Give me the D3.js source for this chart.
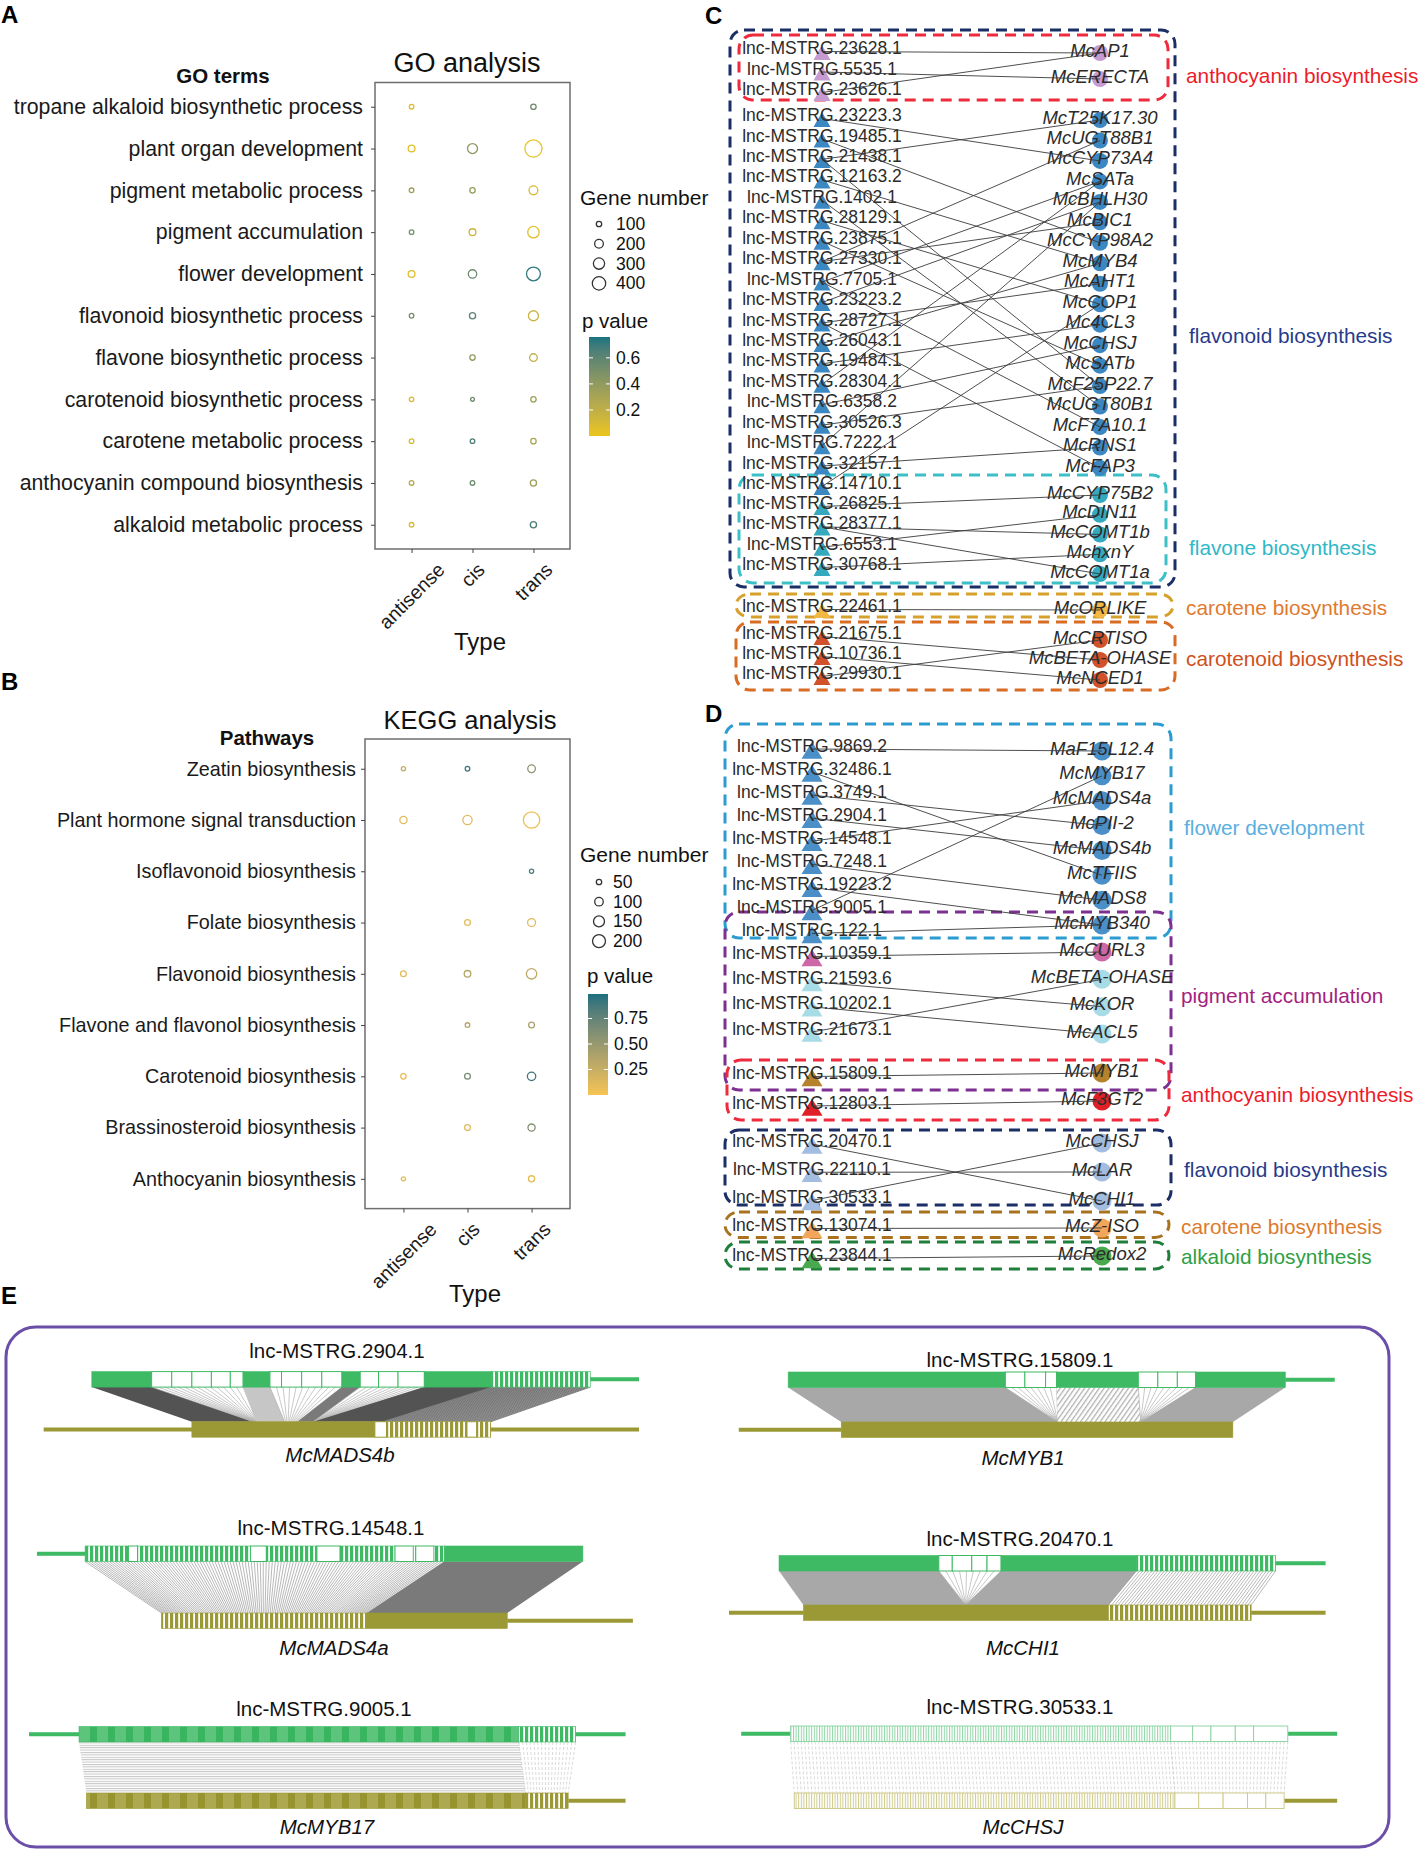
<!DOCTYPE html>
<html>
<head>
<meta charset="utf-8">
<script src="https://cdn.jsdelivr.net/npm/d3@7/dist/d3.min.js"></script>
<style>
  body { margin: 0; background: #fff; }
  svg text { font-family: "Liberation Sans", Arial, Helvetica, sans-serif; }
</style>
</head>
<body>
<div id="fig"></div>
<script>
// ---------- A: GO analysis ----------
var types = ["antisense", "cis", "trans"];
var goTerms = ["tropane alkaloid biosynthetic process", "plant organ development", "pigment metabolic process",
  "pigment accumulation", "flower development", "flavonoid biosynthetic process", "flavone biosynthetic process",
  "carotenoid biosynthetic process", "carotene metabolic process", "anthocyanin compound biosynthesis",
  "alkaloid metabolic process"];
// gene number per term for antisense / cis / trans (null = not enriched)
var goCount = [[80, null, 100], [138, 248, 610], [82, 100, 203], [80, 138, 306], [138, 189, 420],
  [80, 121, 248], [null, 100, 163], [78, 64, 100], [80, 80, 100], [80, 80, 121], [80, null, 121]];
var goP = [[0.08, null, 0.55], [0.05, 0.42, 0.03], [0.35, 0.38, 0.10], [0.50, 0.15, 0.05], [0.06, 0.55, 0.72],
  [0.50, 0.60, 0.15], [null, 0.40, 0.20], [0.10, 0.55, 0.35], [0.10, 0.65, 0.30], [0.25, 0.55, 0.35],
  [0.10, null, 0.65]];
var goSizeBreaks = [100, 200, 300, 400];
var goPBreaks = [0.2, 0.4, 0.6];

// ---------- B: KEGG analysis ----------
var keggPathways = ["Zeatin biosynthesis", "Plant hormone signal transduction", "Isoflavonoid biosynthesis",
  "Folate biosynthesis", "Flavonoid biosynthesis", "Flavone and flavonol biosynthesis",
  "Carotenoid biosynthesis", "Brassinosteroid biosynthesis", "Anthocyanin biosynthesis"];
var keggCount = [[35, 40, 83], [76, 113, 299], [null, null, 35], [null, 55, 90], [55, 67, 137],
  [null, 40, 55], [50, 55, 97], [null, 55, 76], [35, null, 61]];
var keggP = [[0.30, 0.90, 0.55], [0.10, 0.12, 0.05], [null, null, 0.85], [null, 0.10, 0.12], [0.10, 0.35, 0.30],
  [null, 0.35, 0.40], [0.08, 0.65, 0.90], [null, 0.12, 0.60], [0.10, null, 0.08]];
var keggSizeBreaks = [50, 100, 150, 200];
var keggPBreaks = [0.25, 0.5, 0.75];

// ---------- C: lncRNA - target network (left ids, right genes) ----------
var cLncAnth = [["23628.1", "anth"], ["5535.1", "anth"], ["23626.1", "anth"]];
var cLncFlavonoid = [["23223.3", "flav"], ["19485.1", "flav"], ["21438.1", "flav"], ["12163.2", "flav"],
  ["1402.1", "flav"], ["28129.1", "flav"], ["23875.1", "flav"], ["27330.1", "flav"], ["7705.1", "flav"],
  ["23223.2", "flav"], ["28727.1", "flav"], ["26043.1", "flav"], ["19484.1", "flav"], ["28304.1", "flav"],
  ["6358.2", "flav"], ["30526.3", "flav"], ["7222.1", "flav"], ["32157.1", "flav"], ["14710.1", "flav"]];
var cLncFlavone = [["26825.1", "flavone"], ["28377.1", "flavone"], ["6553.1", "flavone"], ["30768.1", "flavone"]];
var cLncCarotene = [["22461.1", "carotene"]];
var cLncCarotenoid = [["21675.1", "carotenoid"], ["10736.1", "carotenoid"], ["29930.1", "carotenoid"]];
var cGeneAnth = [["McAP1", "anth"], ["McERECTA", "anth"]];
var cGeneFlavonoid = [["McT25K17.30", "flav"], ["McUGT88B1", "flav"], ["McCYP73A4", "flav"], ["McSATa", "flav"],
  ["McBHLH30", "flav"], ["McBIC1", "flav"], ["McCYP98A2", "flav"], ["McMYB4", "flav"], ["McAHT1", "flav"],
  ["McCOP1", "flav"], ["Mc4CL3", "flav"], ["McCHSJ", "flav"], ["McSATb", "flav"], ["McF25P22.7", "flav"],
  ["McUGT80B1", "flav"], ["McF7A10.1", "flav"], ["McRNS1", "flav"], ["McFAP3", "flav"]];
var cGeneFlavone = [["McCYP75B2", "flavone"], ["McDIN11", "flavone"], ["McCOMT1b", "flavone"],
  ["MchxnY", "flavone"], ["McCOMT1a", "flavone"]];
var cGeneCarotene = [["McORLIKE", "carotene"]];
var cGeneCarotenoid = [["McCRTISO", "carotenoid"], ["McBETA-OHASE", "carotenoid"], ["McNCED1", "carotenoid"]];
var cEdges = [["23628.1", "McAP1"], ["5535.1", "McERECTA"], ["23626.1", "McAP1"],
  ["23223.3", "McCYP73A4"], ["19485.1", "McCYP98A2"], ["21438.1", "McT25K17.30"], ["21438.1", "McF25P22.7"],
  ["12163.2", "McMYB4"], ["1402.1", "McUGT80B1"], ["28129.1", "McCOP1"], ["23875.1", "McSATb"],
  ["27330.1", "McUGT88B1"], ["27330.1", "McBIC1"], ["7705.1", "McSATa"], ["7705.1", "McF7A10.1"],
  ["23223.2", "McBHLH30"], ["28727.1", "McAHT1"], ["28727.1", "McFAP3"], ["26043.1", "McMYB4"],
  ["19484.1", "Mc4CL3"], ["28304.1", "McSATa"], ["6358.2", "McCHSJ"], ["30526.3", "McF25P22.7"],
  ["7222.1", "McBHLH30"], ["32157.1", "McRNS1"], ["14710.1", "McCOP1"],
  ["26825.1", "McCYP75B2"], ["28377.1", "McCOMT1b"], ["28377.1", "McCOMT1a"], ["6553.1", "McDIN11"],
  ["30768.1", "MchxnY"], ["22461.1", "McORLIKE"],
  ["21675.1", "McBETA-OHASE"], ["10736.1", "McNCED1"], ["29930.1", "McCRTISO"]];

// ---------- D ----------
var dLncFlower = [["9869.2", "flower"], ["32486.1", "flower"], ["3749.1", "flower"], ["2904.1", "flower"],
  ["14548.1", "flower"], ["7248.1", "flower"], ["19223.2", "flower"], ["9005.1", "flower"], ["122.1", "flower"]];
var dLncPigment = [["10359.1", "curl"], ["21593.6", "pig"], ["10202.1", "pig"], ["21673.1", "pig"]];
var dLncAnth = [["15809.1", "myb"], ["12803.1", "anth"]];
var dLncFlavonoid = [["20470.1", "flav"], ["22110.1", "flav"], ["30533.1", "flav"]];
var dLncCarotene = [["13074.1", "carotene"]];
var dLncAlkaloid = [["23844.1", "alkaloid"]];
var dGeneFlower = [["MaF15L12.4", "flower"], ["McMYB17", "flower"], ["McMADS4a", "flower"], ["McPII-2", "flower"],
  ["McMADS4b", "flower"], ["McTFIIS", "flower"], ["McMADS8", "flower"], ["McMYB340", "flower"]];
var dGenePigment = [["McCURL3", "curl"], ["McBETA-OHASE", "pig"], ["McKOR", "pig"], ["McACL5", "pig"]];
var dGeneAnth = [["McMYB1", "myb"], ["McF3GT2", "anth"]];
var dGeneFlavonoid = [["McCHSJ", "flav"], ["McLAR", "flav"], ["McCHI1", "flav"]];
var dGeneCarotene = [["McZ-ISO", "carotene"]];
var dGeneAlkaloid = [["McRedox2", "alkaloid"]];
var dEdges = [["9869.2", "MaF15L12.4"], ["32486.1", "McTFIIS"], ["3749.1", "McPII-2"], ["2904.1", "McMADS4b"],
  ["14548.1", "McMADS4a"], ["7248.1", "McMADS8"], ["19223.2", "McMYB340"], ["9005.1", "McMYB17"],
  ["122.1", "McMYB340"], ["10359.1", "McCURL3"], ["21593.6", "McKOR"], ["10202.1", "McACL5"],
  ["21673.1", "McBETA-OHASE"], ["15809.1", "McMYB1"], ["12803.1", "McF3GT2"], ["20470.1", "McCHI1"],
  ["22110.1", "McLAR"], ["30533.1", "McCHSJ"], ["13074.1", "McZ-ISO"], ["23844.1", "McRedox2"]];

// ---------- E: sequence alignments (positions along a 0-100 track) ----------
// segments: [start, end, kind]  s=matched, g=gap box, t=mixed, v=variable, p=sparse
// links: [lncStart, lncEnd, geneStart, geneEnd, kind]
var e1Lnc = [[10.3, 20.1, "s"], [20.1, 23.4, "g"], [23.4, 26.7, "g"], [26.7, 29.9, "g"], [29.9, 33.0, "g"],
  [33.0, 35.1, "g"], [35.1, 39.5, "s"], [39.5, 41.4, "g"], [41.4, 44.7, "g"], [44.7, 48.0, "g"], [48.0, 51.3, "g"],
  [51.3, 54.3, "s"], [54.3, 57.3, "g"], [57.3, 60.5, "g"], [60.5, 64.8, "g"], [64.8, 75.8, "s"], [75.8, 92.0, "t"]];
var e1Gene = [[26.7, 56.7, "s"], [56.7, 58.6, "g"], [58.6, 71.8, "t"], [71.8, 73.4, "g"], [73.4, 75.7, "t"]];
var e1Links = [[10.3, 20.1, 26.7, 36.8, "d"], [20.1, 35.1, 36.8, 37.4, "f"], [35.1, 39.5, 37.2, 41.9, "l"],
  [39.5, 51.3, 41.9, 44.0, "f"], [51.3, 54.3, 44.0, 46.6, "m"], [54.3, 64.8, 46.6, 47.0, "f"],
  [64.8, 75.8, 46.6, 57.8, "d"], [75.8, 92.0, 57.8, 75.7, "b"]];
var e1Tails = [[[92.0, 100]], [[2.4, 100]]];

var e2Lnc = [[9.2, 16.3, "t"], [16.3, 17.8, "g"], [17.8, 36.3, "t"], [36.3, 38.9, "g"], [38.9, 47.2, "t"],
  [47.2, 51.0, "g"], [51.0, 60.0, "t"], [60.0, 63.0, "g"], [63.0, 63.4, "t"], [63.4, 66.4, "g"],
  [66.4, 68.1, "t"], [68.1, 90.8, "s"]];
var e2Gene = [[21.7, 55.4, "t"], [55.4, 78.4, "s"]];
var e2Links = [[9.2, 68.1, 21.7, 55.4, "c"], [68.1, 90.8, 55.4, 78.4, "m"]];
var e2Tails = [[[1.3, 9.2]], [[78.4, 99.0]]];

var e3Lnc = [[8.2, 80.3, "v"], [80.3, 89.6, "t"]];
var e3Gene = [[9.4, 81.4, "v"], [81.4, 88.4, "t"]];
var e3Links = [[8.2, 80.3, 9.4, 81.4, "h"], [80.3, 89.6, 81.4, 88.4, "q"]];
var e3Tails = [[[0, 8.2], [89.6, 97.8]], [[88.4, 97.8]]];

var e4Lnc = [[9.7, 45.3, "s"], [45.3, 48.5, "g"], [48.5, 51.9, "g"], [51.9, 53.7, "g"], [53.7, 67.1, "s"],
  [67.1, 70.3, "g"], [70.3, 73.5, "g"], [73.5, 76.5, "g"], [76.5, 91.2, "s"]];
var e4Gene = [[18.4, 82.6, "s"]];
var e4Links = [[9.7, 45.3, 18.4, 53.9, "a"], [45.3, 53.7, 53.9, 53.9, "f"], [53.7, 67.1, 53.9, 67.5, "x"],
  [67.1, 76.5, 67.5, 67.5, "f"], [76.5, 91.2, 67.5, 82.6, "a"]];
var e4Tails = [[[91.2, 99.3]], [[1.6, 18.4]]];

var e5Lnc = [[8.2, 34.4, "s"], [34.4, 36.6, "g"], [36.6, 39.8, "g"], [39.8, 42.3, "g"], [42.3, 44.6, "g"],
  [44.6, 66.8, "s"], [66.8, 89.6, "t"]];
var e5Gene = [[12.2, 62.2, "s"], [62.2, 85.6, "t"]];
var e5Links = [[8.2, 34.4, 12.2, 38.8, "a"], [34.4, 44.6, 38.8, 38.8, "f"], [44.6, 66.8, 38.8, 62.2, "a"],
  [66.8, 89.6, 62.2, 85.6, "c"]];
var e5Tails = [[[89.6, 97.8]], [[0, 12.2], [85.6, 97.8]]];

var e6Lnc = [[10.1, 72.4, "p"], [72.4, 76.0, "g"], [76.0, 79.0, "g"], [79.0, 83.0, "g"], [83.0, 86.0, "g"],
  [86.0, 91.6, "g"]];
var e6Gene = [[10.7, 73.1, "p"], [73.1, 77.0, "g"], [77.0, 81.0, "g"], [81.0, 85.0, "g"], [85.0, 88.0, "g"],
  [88.0, 91.0, "g"]];
var e6Links = [[10.1, 72.4, 10.7, 73.1, "q"], [72.4, 91.6, 73.1, 91.0, "q"]];
var e6Tails = [[[2.0, 10.1], [91.6, 99.7]], [[91.0, 99.7]]];

// =====================================================================
var svg = d3.select("#fig").append("svg")
  .attr("width", 1420).attr("height", 1851)
  .style("display", "block");
var defs = svg.append("defs");

var GREEN = "#3dba63", OLIVE = "#9b9935";

function stripePattern(id, w, base, sx, sw, color, horizontal) {
  var p = defs.append("pattern").attr("id", id).attr("patternUnits", "userSpaceOnUse")
    .attr("width", horizontal ? 10 : w).attr("height", horizontal ? w : 10);
  p.append("rect").attr("width", horizontal ? 10 : w).attr("height", horizontal ? w : 10).attr("fill", base);
  if (horizontal) p.append("rect").attr("y", sx).attr("width", 10).attr("height", sw).attr("fill", color);
  else p.append("rect").attr("x", sx).attr("width", sw).attr("height", 10).attr("fill", color);
}
stripePattern("stripeG", 5, GREEN, 3.2, 1.8, "#fff");
stripePattern("stripeO", 5, OLIVE, 3.2, 1.8, "#fff");
stripePattern("varG", 18, "#5cc47b", 0, 7, "#38b55e");
stripePattern("varO", 18, "#aca950", 0, 7, "#97942f");
stripePattern("paleG", 2.6, "#fff", 0, 1, "#8fd6a5");
stripePattern("paleO", 2.6, "#fff", 0, 1, "#cfcb8c");
stripePattern("hatchH", 2.4, "#fff", 0, 1, "#c4c4c4", true);
var pd = defs.append("pattern").attr("id", "hatchD").attr("patternUnits", "userSpaceOnUse")
  .attr("width", 4).attr("height", 4).attr("patternTransform", "rotate(35)");
pd.append("rect").attr("width", 4).attr("height", 4).attr("fill", "#fff");
pd.append("rect").attr("width", 1.3).attr("height", 4).attr("fill", "#b0b0b0");

// panel letters
[["A", 1, 23], ["B", 1, 690], ["C", 705, 24], ["D", 705, 722], ["E", 1, 1304]].forEach(function (d) {
  svg.append("text").attr("x", d[1]).attr("y", d[2]).text(d[0])
    .style("font-size", "24px").style("font-weight", "bold").attr("fill", "#000");
});

// ---------- bubble panels ----------
function bubblePanel(o) {
  var g = svg.append("g");
  var x = d3.scalePoint().domain(types).range([o.box[0], o.box[2]]).padding(0.6);
  var y = d3.scalePoint().domain(o.rows).range([o.box[1], o.box[3]]).padding(0.58);
  var r = d3.scaleSqrt().domain(o.sizeDomain).range(o.sizeRange);
  var col = d3.scaleLinear().domain([0, o.pMax]).range(o.colors).interpolate(d3.interpolateLab);

  g.append("rect").attr("x", o.box[0]).attr("y", o.box[1])
    .attr("width", o.box[2] - o.box[0]).attr("height", o.box[3] - o.box[1])
    .attr("fill", "none").attr("stroke", "#6e6e6e").attr("stroke-width", 1.5);

  var ya = g.append("g").attr("transform", "translate(" + o.box[0] + ",0)")
    .call(d3.axisLeft(y).tickSize(4).tickPadding(o.tickPad));
  ya.select(".domain").remove();
  ya.selectAll("line").attr("stroke", "#444");
  ya.selectAll("text").style("font-size", o.labelSize + "px").attr("fill", "#1a1a1a");

  var xa = g.append("g").attr("transform", "translate(0," + o.box[3] + ")")
    .call(d3.axisBottom(x).tickSize(4).tickFormat(""));
  xa.select(".domain").remove();
  xa.selectAll("line").attr("stroke", "#444");

  types.forEach(function (t) {
    var tx = g.append("text").text(t).style("font-size", "19.5px").attr("fill", "#1a1a1a")
      .attr("text-anchor", "middle").attr("dominant-baseline", "central");
    var w = tx.node().getComputedTextLength();
    var cy = o.box[3] + 12 + (w + 14.6) / (2 * Math.SQRT2);
    tx.attr("transform", "translate(" + x(t) + "," + cy + ") rotate(-45)");
  });

  var pts = [];
  o.rows.forEach(function (row, i) {
    types.forEach(function (t, j) {
      if (o.count[i][j] != null) pts.push({ row: row, type: t, n: o.count[i][j], p: o.p[i][j] });
    });
  });
  g.selectAll("circle.bub").data(pts).enter().append("circle").attr("class", "bub")
    .attr("cx", function (d) { return x(d.type); })
    .attr("cy", function (d) { return y(d.row); })
    .attr("r", function (d) { return r(d.n); })
    .attr("fill", "none").attr("stroke-width", 1.3)
    .attr("stroke", function (d) { return col(d.p); });

  g.append("text").attr("x", o.titleX).attr("y", o.titleY).attr("text-anchor", "middle")
    .style("font-size", o.titleSize + "px").attr("fill", "#111").text(o.title);
  g.append("text").attr("x", o.headX).attr("y", o.headY).attr("text-anchor", "middle")
    .style("font-size", "20.5px").style("font-weight", "bold").attr("fill", "#111").text(o.head);
  g.append("text").attr("x", o.typeX).attr("y", o.typeY).attr("text-anchor", "middle")
    .style("font-size", "24px").attr("fill", "#111").text("Type");

  // size legend
  var lg = o.legend;
  g.append("text").attr("x", lg.x).attr("y", lg.sizeTitleY).style("font-size", "21px").attr("fill", "#111")
    .text("Gene number");
  o.sizeBreaks.forEach(function (b, i) {
    var cy = lg.sizeY0 + i * lg.sizeStep;
    g.append("circle").attr("cx", lg.x + 19).attr("cy", cy).attr("r", r(b))
      .attr("fill", "none").attr("stroke", "#333").attr("stroke-width", 1.3);
    g.append("text").attr("x", lg.numX).attr("y", cy + 6).style("font-size", "17.5px").attr("fill", "#111").text(b);
  });
  // colour legend
  g.append("text").attr("x", lg.pX).attr("y", lg.pTitleY).style("font-size", "20.5px").attr("fill", "#111")
    .text("p value");
  var gid = "grad" + o.id;
  var grad = defs.append("linearGradient").attr("id", gid)
    .attr("x1", 0).attr("y1", 1).attr("x2", 0).attr("y2", 0);
  d3.range(0, 1.0001, 0.1).forEach(function (t) {
    grad.append("stop").attr("offset", t).attr("stop-color", col(t * o.pMax));
  });
  var cb = d3.scaleLinear().domain([0, o.pMax]).range([lg.barY1, lg.barY0]);
  g.append("rect").attr("x", lg.barX).attr("y", lg.barY0).attr("width", lg.barW)
    .attr("height", lg.barY1 - lg.barY0).attr("fill", "url(#" + gid + ")");
  o.pBreaks.forEach(function (b) {
    var yy = cb(b);
    g.append("line").attr("x1", lg.barX).attr("x2", lg.barX + 4).attr("y1", yy).attr("y2", yy)
      .attr("stroke", "#fff").attr("stroke-width", 1);
    g.append("line").attr("x1", lg.barX + lg.barW - 4).attr("x2", lg.barX + lg.barW).attr("y1", yy).attr("y2", yy)
      .attr("stroke", "#fff").attr("stroke-width", 1);
    g.append("text").attr("x", lg.barX + lg.barW + 6).attr("y", yy + 6).style("font-size", "17.5px")
      .attr("fill", "#111").text(o.pFormat(b));
  });
}

bubblePanel({
  id: "A", rows: goTerms, count: goCount, p: goP, box: [375, 82.5, 570, 549],
  sizeDomain: [100, 400], sizeRange: [2.7, 6.7], pMax: 0.76, colors: ["#ecc51a", "#1b7480"],
  tickPad: 8, labelSize: 21.3, title: "GO analysis", titleX: 467, titleY: 72, titleSize: 27,
  head: "GO terms", headX: 223, headY: 83, typeX: 480, typeY: 650,
  sizeBreaks: goSizeBreaks, pBreaks: goPBreaks, pFormat: d3.format(".1f"),
  legend: { x: 580, sizeTitleY: 205, sizeY0: 224, sizeStep: 19.8, numX: 616, pX: 582, pTitleY: 328,
    barX: 589, barW: 21, barY0: 337, barY1: 436 }
});
bubblePanel({
  id: "B", rows: keggPathways, count: keggCount, p: keggP, box: [365, 739, 570, 1208.6],
  sizeDomain: [50, 200], sizeRange: [2.7, 6.5], pMax: 0.99, colors: ["#f6c455", "#1a6f7f"],
  tickPad: 5, labelSize: 19.8, title: "KEGG analysis", titleX: 470, titleY: 729, titleSize: 25.5,
  head: "Pathways", headX: 267, headY: 745, typeX: 475, typeY: 1302,
  sizeBreaks: keggSizeBreaks, pBreaks: keggPBreaks, pFormat: d3.format(".2f"),
  legend: { x: 580, sizeTitleY: 862, sizeY0: 882, sizeStep: 19.7, numX: 613, pX: 587, pTitleY: 983,
    barX: 588, barW: 20, barY0: 994, barY1: 1095 }
});

// ---------- network panels ----------
function network(o) {
  var g = svg.append("g");
  var lncPos = {}, genePos = {};
  o.groups.forEach(function (gr) {
    var ly = d3.scalePoint().domain(gr.lnc.map(function (d) { return d[0]; })).range(gr.lncY);
    gr.lnc.forEach(function (d) { lncPos[d[0]] = { y: ly(d[0]), cat: d[1] }; });
    var gy = d3.scalePoint().domain(gr.genes.map(function (d) { return d[0]; })).range(gr.geneY);
    gr.genes.forEach(function (d) { genePos[d[0]] = { y: gy(d[0]), cat: d[1] }; });
  });

  o.boxes.forEach(function (b) {
    g.append("rect").attr("x", b.x0).attr("y", b.y0).attr("width", b.x1 - b.x0).attr("height", b.y1 - b.y0)
      .attr("rx", 14).attr("fill", "none").attr("stroke", b.color).attr("stroke-width", 3)
      .attr("stroke-dasharray", "11,7");
    g.append("text").attr("x", b.lx).attr("y", b.ly).attr("dominant-baseline", "central")
      .style("font-size", "20.8px").attr("fill", b.lc).text(b.label);
  });

  // triangles sit a little low, so their base shows under the label
  var tw = o.tri[0], th = o.tri[1];
  Object.keys(lncPos).forEach(function (k) {
    var p = lncPos[k];
    g.append("path")
      .attr("d", "M" + o.xL + "," + (p.y - th * 0.43) + "L" + (o.xL + tw / 2) + "," + (p.y + th * 0.57) +
        "L" + (o.xL - tw / 2) + "," + (p.y + th * 0.57) + "Z")
      .attr("fill", o.colors[p.cat]);
  });
  Object.keys(genePos).forEach(function (k) {
    var p = genePos[k];
    g.append("circle").attr("cx", o.xG).attr("cy", p.y).attr("r", o.cr).attr("fill", o.colors[p.cat]);
  });
  Object.keys(lncPos).forEach(function (k) {
    g.append("text").attr("x", o.xL).attr("y", lncPos[k].y + 2.6).attr("text-anchor", "middle")
      .style("font-size", "17.5px").attr("fill", "#2b2b2b").text("lnc-MSTRG." + k);
  });
  Object.keys(genePos).forEach(function (k) {
    g.append("text").attr("x", o.xG).attr("y", genePos[k].y + 3.5).attr("text-anchor", "middle")
      .style("font-size", "18.5px").style("font-style", "italic").attr("fill", "#2b2b2b").text(k);
  });
  g.selectAll("line.edge").data(o.edges).enter().append("line").attr("class", "edge")
    .attr("x1", o.xL).attr("y1", function (d) { return lncPos[d[0]].y; })
    .attr("x2", o.xG).attr("y2", function (d) { return genePos[d[1]].y; })
    .attr("stroke", "#3a3a3a").attr("stroke-width", 0.9);
}

network({
  xL: 822, xG: 1100, tri: [17, 15], cr: 8,
  colors: { anth: "#c69bd1", flav: "#3b87c2", flavone: "#35aabe", carotene: "#f3b843", carotenoid: "#d0512a" },
  groups: [
    { lnc: cLncAnth, lncY: [51.5, 92.5], genes: cGeneAnth, geneY: [53, 79] },
    { lnc: cLncFlavonoid, lncY: [118.5, 486.5], genes: cGeneFlavonoid, geneY: [120, 468] },
    { lnc: cLncFlavone, lncY: [506.5, 567.5], genes: cGeneFlavone, geneY: [495, 574] },
    { lnc: cLncCarotene, lncY: [609.5, 609.5], genes: cGeneCarotene, geneY: [610, 610] },
    { lnc: cLncCarotenoid, lncY: [636.5, 676.5], genes: cGeneCarotenoid, geneY: [640, 680] }
  ],
  boxes: [
    { x0: 730, x1: 1175, y0: 30, y1: 587, color: "#1b2f66", label: "flavonoid biosynthesis", lx: 1189, ly: 335, lc: "#283a8c" },
    { x0: 739, x1: 1168, y0: 35, y1: 100, color: "#ee2a3c", label: "anthocyanin biosynthesis", lx: 1186, ly: 75, lc: "#ec1c2a" },
    { x0: 739, x1: 1166, y0: 475, y1: 583, color: "#3cc0c8", label: "flavone biosynthesis", lx: 1189, ly: 547, lc: "#2fb8c8" },
    { x0: 736, x1: 1173, y0: 594, y1: 617, color: "#d6a12a", label: "carotene biosynthesis", lx: 1186, ly: 607, lc: "#e07a2e" },
    { x0: 736, x1: 1175, y0: 622, y1: 690, color: "#d86c24", label: "carotenoid biosynthesis", lx: 1186, ly: 658, lc: "#d0501c" }
  ],
  edges: cEdges
});

network({
  xL: 812, xG: 1102, tri: [21, 17], cr: 9.5,
  colors: { flower: "#4a8fc7", curl: "#cd67a6", pig: "#a7dbe5", myb: "#b5832b", anth: "#df2027",
    flav: "#a2bde0", carotene: "#f2a65c", alkaloid: "#4aa84e" },
  groups: [
    { lnc: dLncFlower, lncY: [749, 933.5], genes: dGeneFlower, geneY: [751, 925] },
    { lnc: dLncPigment, lncY: [956.5, 1032], genes: dGenePigment, geneY: [952, 1034] },
    { lnc: dLncAnth, lncY: [1076.5, 1106], genes: dGeneAnth, geneY: [1073, 1101] },
    { lnc: dLncFlavonoid, lncY: [1144, 1200.5], genes: dGeneFlavonoid, geneY: [1143, 1201] },
    { lnc: dLncCarotene, lncY: [1228.5, 1228.5], genes: dGeneCarotene, geneY: [1228, 1228] },
    { lnc: dLncAlkaloid, lncY: [1258.5, 1258.5], genes: dGeneAlkaloid, geneY: [1256, 1256] }
  ],
  boxes: [
    { x0: 725, x1: 1171, y0: 724, y1: 938, color: "#2b9bd0", label: "flower development", lx: 1184, ly: 827, lc: "#5aaee0" },
    { x0: 725, x1: 1171, y0: 912, y1: 1090, color: "#7d2f92", label: "pigment accumulation", lx: 1181, ly: 995, lc: "#a3237f" },
    { x0: 727, x1: 1169, y0: 1060, y1: 1120, color: "#ee2a3c", label: "anthocyanin biosynthesis", lx: 1181, ly: 1094, lc: "#ec1c2a" },
    { x0: 725, x1: 1171, y0: 1130, y1: 1205, color: "#1b2f66", label: "flavonoid biosynthesis", lx: 1184, ly: 1169, lc: "#283a8c" },
    { x0: 725, x1: 1169, y0: 1212, y1: 1237.5, color: "#a8721e", label: "carotene biosynthesis", lx: 1181, ly: 1226, lc: "#de7a2c" },
    { x0: 725, x1: 1169, y0: 1242, y1: 1269, color: "#1f7f3a", label: "alkaloid biosynthesis", lx: 1181, ly: 1256, lc: "#2ea043" }
  ],
  edges: dEdges
});

// ---------- E: alignments ----------
svg.append("rect").attr("x", 6).attr("y", 1327).attr("width", 1383).attr("height", 520).attr("rx", 30)
  .attr("fill", "none").attr("stroke", "#6a4ea8").attr("stroke-width", 3);

var eBarH = 15.5;
var linkFill = { d: "#535353", m: "#7a7a7a", a: "#a8a8a8", l: "#c6c6c6", h: "url(#hatchH)", x: "url(#hatchD)" };
var linkLines = { f: ["#b0b0b0", 6, null], b: ["#4f4f4f", 2.2, null], c: ["#9a9a9a", 3, null], q: ["#c8c8c8", 3.5, "3,2"] };

function alignment(o) {
  var sc = d3.scaleLinear().domain([0, 100]).range(o.col === 0 ? [29, 639] : [729, 1339]);
  var g = svg.append("g");
  var gMid = o.gy + eBarH / 2, oMid = o.oy + eBarH / 2;
  o.tails[0].forEach(function (t) {
    g.append("line").attr("x1", sc(t[0])).attr("x2", sc(t[1])).attr("y1", gMid).attr("y2", gMid)
      .attr("stroke", GREEN).attr("stroke-width", 4);
  });
  o.tails[1].forEach(function (t) {
    g.append("line").attr("x1", sc(t[0])).attr("x2", sc(t[1])).attr("y1", oMid).attr("y2", oMid)
      .attr("stroke", OLIVE).attr("stroke-width", 4);
  });
  var yT = o.gy + eBarH, yB = o.oy;
  o.links.forEach(function (l) {
    var x0 = sc(l[0]), x1 = sc(l[1]), x2 = sc(l[2]), x3 = sc(l[3]);
    if (linkFill[l[4]]) {
      g.append("path").attr("d", "M" + x0 + "," + yT + "L" + x1 + "," + yT + "L" + x3 + "," + yB + "L" + x2 + "," + yB + "Z")
        .attr("fill", linkFill[l[4]]);
    } else {
      var st = linkLines[l[4]];
      var n = Math.max(3, Math.round((x1 - x0) / st[1]));
      for (var i = 0; i < n; i++) {
        var f = i / (n - 1);
        g.append("line").attr("x1", x0 + f * (x1 - x0)).attr("y1", yT)
          .attr("x2", x2 + f * (x3 - x2)).attr("y2", yB)
          .attr("stroke", st[0]).attr("stroke-width", 0.7).attr("stroke-dasharray", st[2]);
      }
    }
  });
  function bar(segs, y, base, pale) {
    segs.forEach(function (s) {
      var fill = { s: base === GREEN ? GREEN : OLIVE, g: "#fff",
        t: base === GREEN ? "url(#stripeG)" : "url(#stripeO)",
        v: base === GREEN ? "url(#varG)" : "url(#varO)",
        p: base === GREEN ? "url(#paleG)" : "url(#paleO)" }[s[2]];
      g.append("rect").attr("x", sc(s[0])).attr("y", y).attr("width", sc(s[1]) - sc(s[0])).attr("height", eBarH)
        .attr("fill", fill)
        .attr("stroke", pale ? (base === GREEN ? "#8fd6a5" : "#cfcb8c") : base)
        .attr("stroke-width", s[2] === "g" || s[2] === "p" ? 1 : 0.6);
    });
  }
  bar(o.lnc, o.gy, GREEN, o.pale);
  bar(o.gene, o.oy, OLIVE, o.pale);
  g.append("text").attr("x", o.tx).attr("y", o.titleY).attr("text-anchor", "middle")
    .style("font-size", "20.5px").attr("fill", "#111").text(o.title);
  g.append("text").attr("x", o.tx + 3).attr("y", o.geneY).attr("text-anchor", "middle")
    .style("font-size", "20.5px").style("font-style", "italic").attr("fill", "#111").text(o.geneName);
}

alignment({ col: 0, gy: 1371.6, oy: 1421.7, tx: 337, titleY: 1358, geneY: 1462, title: "lnc-MSTRG.2904.1",
  geneName: "McMADS4b", lnc: e1Lnc, gene: e1Gene, links: e1Links, tails: e1Tails });
alignment({ col: 0, gy: 1546, oy: 1613, tx: 331, titleY: 1535, geneY: 1655, title: "lnc-MSTRG.14548.1",
  geneName: "McMADS4a", lnc: e2Lnc, gene: e2Gene, links: e2Links, tails: e2Tails });
alignment({ col: 0, gy: 1726.5, oy: 1793, tx: 324, titleY: 1716, geneY: 1834, title: "lnc-MSTRG.9005.1",
  geneName: "McMYB17", lnc: e3Lnc, gene: e3Gene, links: e3Links, tails: e3Tails });
alignment({ col: 1, gy: 1372, oy: 1422, tx: 1020, titleY: 1367, geneY: 1465, title: "lnc-MSTRG.15809.1",
  geneName: "McMYB1", lnc: e4Lnc, gene: e4Gene, links: e4Links, tails: e4Tails });
alignment({ col: 1, gy: 1555.5, oy: 1605, tx: 1020, titleY: 1546, geneY: 1655, title: "lnc-MSTRG.20470.1",
  geneName: "McCHI1", lnc: e5Lnc, gene: e5Gene, links: e5Links, tails: e5Tails });
alignment({ col: 1, gy: 1726, oy: 1793, tx: 1020, titleY: 1714, geneY: 1834, title: "lnc-MSTRG.30533.1",
  geneName: "McCHSJ", lnc: e6Lnc, gene: e6Gene, links: e6Links, tails: e6Tails, pale: true });
</script>
</body>
</html>
